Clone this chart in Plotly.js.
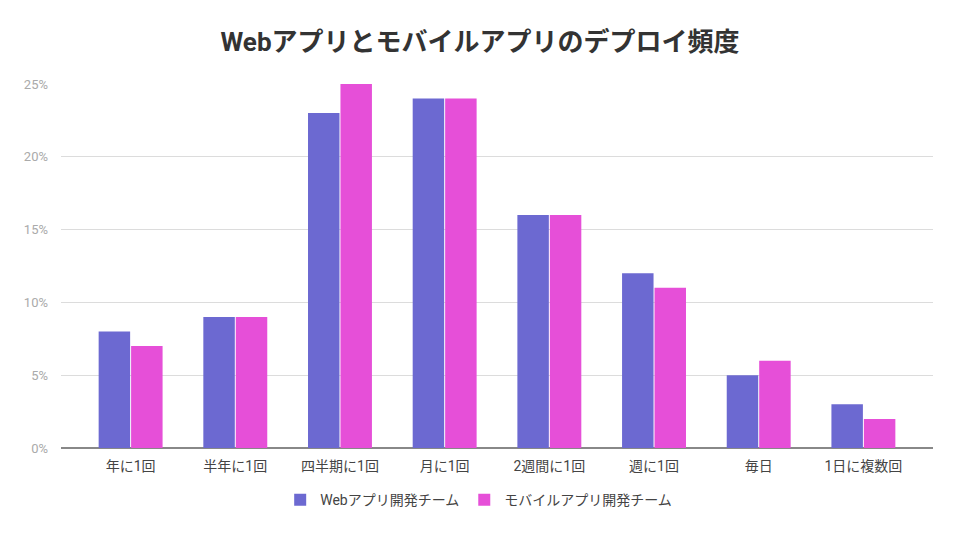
<!DOCTYPE html>
<html>
<head>
<meta charset="utf-8">
<script src="https://cdn.plot.ly/plotly-3.0.1.min.js"></script>
<style>html,body{margin:0;padding:0;background:#fff;}#chart{width:960px;height:540px;}</style>
</head>
<body>
<div id="chart"></div>
<script>
const categories = ["年に1回","半年に1回","四半期に1回","月に1回","2週間に1回","週に1回","毎日","1日に複数回"];
const webValues = [0.08,0.09,0.23,0.24,0.16,0.12,0.05,0.03];
const mobileValues = [0.07,0.09,0.25,0.24,0.16,0.11,0.06,0.02];
const seriesNames = ["Webアプリ開発チーム","モバイルアプリ開発チーム"];
const yTickVals = [0,0.05,0.10,0.15,0.20,0.25];
const yTickText = ["0%","5%","10%","15%","20%","25%"];

const fontFam = "Roboto, 'Noto Sans CJK JP', sans-serif";
const data = [
  {type:"bar", name:seriesNames[0], x:categories, y:webValues, marker:{color:"#6c69d1"}, hoverinfo:"x+y"},
  {type:"bar", name:seriesNames[1], x:categories, y:mobileValues, marker:{color:"#e64fd8"}, hoverinfo:"x+y"}
];
const layout = {
  width:960, height:540,
  margin:{l:61, r:27, t:84, b:92},
  paper_bgcolor:"#fff", plot_bgcolor:"#fff",
  font:{family:fontFam, color:"#444"},
  title:{text:"<b>Webアプリとモバイルアプリのデプロイ頻度</b>", x:0.5, xanchor:"center", y:0.922, yanchor:"middle",
         font:{family:fontFam, size:26, color:"#333"}},
  barmode:"group", bargap:0.38, bargroupgap:0.03,
  xaxis:{type:"category", range:[-0.665,7.665], showgrid:false, showline:false, zeroline:false, ticks:"",
         tickfont:{size:14, color:"#444"}, ticklabelstandoff:8, fixedrange:true},
  yaxis:{range:[0,0.25], tickvals:yTickVals, ticktext:yTickText, showgrid:true, gridcolor:"#dcdcdc", gridwidth:1,
         zeroline:true, zerolinecolor:"#888", zerolinewidth:2, showline:false, ticks:"",
         tickfont:{size:13, color:"#aaa"}, ticklabelstandoff:12, fixedrange:true},
  legend:{orientation:"h", x:0.479, xanchor:"center", y:-0.143, yanchor:"middle", font:{size:14, color:"#444"},
          itemwidth:20, traceorder:"normal"},
  showlegend:true
};
Plotly.newPlot("chart", data, layout, {displayModeBar:false, staticPlot:true});
</script>
</body>
</html>
